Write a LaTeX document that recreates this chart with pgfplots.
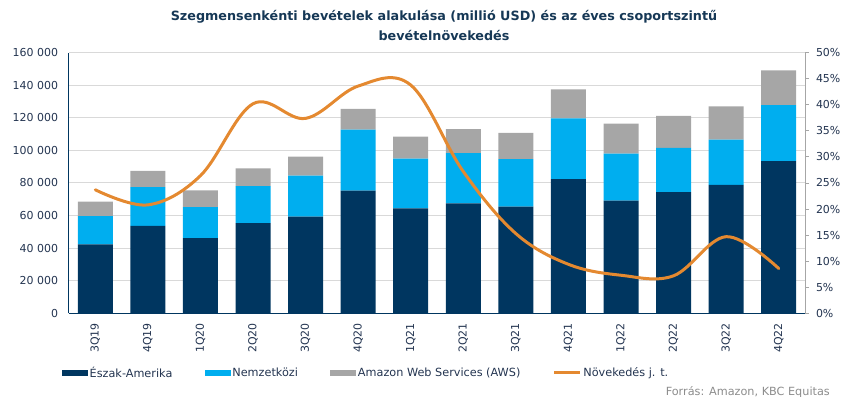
\documentclass[border=0pt]{standalone}
\usepackage{fontspec}
\setmainfont{DejaVu Sans}
\usepackage{pgfplots}
\pgfplotsset{compat=1.18}
\definecolor{navy}{RGB}{0,54,96}
\definecolor{lblue}{RGB}{0,174,239}
\definecolor{aws}{RGB}{166,166,166}
\definecolor{orng}{RGB}{228,137,48}
\definecolor{titlec}{RGB}{22,56,86}
\definecolor{tickc}{RGB}{35,52,80}
\definecolor{gridc}{RGB}{217,217,217}
\definecolor{srcc}{RGB}{140,140,140}
\pgfplotsset{
  boxlegend/.style={legend image code/.code={\fill[##1,draw=none] (0bp,-3.3bp) rectangle (26bp,3.3bp);}},
  linelegend/.style={legend image code/.code={\draw[##1] (0bp,0bp) -- (26bp,0bp);}},
}
\pgfplotstableread{
x na intl aws
0 42319 17317 8995
1 53670 23813 9954
2 46127 19106 10219
3 55436 22668 10808
4 59373 25171 11601
5 75346 37467 12742
6 64366 30649 13503
7 67550 30721 14809
8 65557 29150 16110
9 82360 37272 17780
10 69244 28759 18441
11 74430 27065 19739
12 78843 27720 20538
13 93363 34463 21378
}\revtable
\pgfplotstableread{
x g
0 23.7
1 20.8
2 26.4
3 40.2
4 37.4
5 43.6
6 43.8
7 27.2
8 15.3
9 9.4
10 7.3
11 7.2
12 14.7
13 8.6
}\growtable
\begin{document}
\begin{tikzpicture}
\path[use as bounding box] (-69bp,-83.7bp) rectangle (781bp,313.3bp);
\begin{axis}[
  name=main, at={(0,0)}, anchor=south west, scale only axis,
  width=736bp, height=260.6bp,
  xmin=-0.5, xmax=13.5, ymin=0, ymax=160000,
  ybar stacked, bar width=35bp,
  axis x line*=bottom, axis y line*=left,
  axis line style={color=navy, line width=1bp},
  major tick length=0pt,
  xtick={0,...,13},
  xticklabels={3Q19,4Q19,1Q20,2Q20,3Q20,4Q20,1Q21,2Q21,3Q21,4Q21,1Q22,2Q22,3Q22,4Q22},
  ytick={0,20000,...,160000},
  scaled y ticks=false,
  /pgf/number format/.cd, fixed, 1000 sep={\ }, assume math mode=true, /pgfplots/.cd,
  ymajorgrids, grid style={color=gridc, line width=1bp},
  yticklabel style={font=\fontsize{11}{13}\selectfont, text=tickc, anchor=east, inner sep=0pt, outer sep=11bp},
  xticklabel style={font=\fontsize{11}{13}\selectfont, text=tickc, rotate=90, anchor=east, inner sep=0pt, outer sep=10bp},
  legend columns=4,
  legend style={at={(axis description cs:-0.0095,-0.229)}, anchor=west, draw=none, fill=none,
    inner sep=0pt, font=\fontsize{11.3}{13}\selectfont, text=tickc,
    nodes={inner sep=1.5bp},
    /tikz/every even column/.append style={column sep=31bp}},
  legend cell align=left,
]
\addplot[fill=navy, draw=none, boxlegend] table[x=x, y=na] {\revtable};
\addlegendentry{Észak-Amerika}
\addplot[fill=lblue, draw=none, boxlegend] table[x=x, y=intl] {\revtable};
\addlegendentry{Nemzetközi}
\addplot[fill=aws, draw=none, boxlegend] table[x=x, y=aws] {\revtable};
\addlegendentry{Amazon Web Services (AWS)}
\addlegendimage{orng, line width=3bp, linelegend}
\addlegendentry{Növekedés j. t.}
\end{axis}
\begin{axis}[
  at={(0,0)}, anchor=south west, scale only axis,
  width=736bp, height=260.6bp,
  xmin=-0.5, xmax=13.5, ymin=0, ymax=50,
  axis x line=none, axis y line*=right,
  y axis line style={color=aws, line width=1bp},
  ytick={0,5,...,50},
  ytick style={color=aws, line width=1bp},
  major tick length=4bp, tick align=outside,
  /pgf/number format/.cd, assume math mode=true, /pgfplots/.cd,
  yticklabel={\pgfmathprintnumber{\tick}\%},
  yticklabel style={font=\fontsize{11}{13}\selectfont, text=tickc, anchor=west, inner sep=0pt, outer sep=7bp},
]
\addplot[orng, line width=3bp, smooth, tension=0.6, line cap=round] table[x=x, y=g] {\growtable};
\end{axis}
\node[align=center, font=\bfseries\fontsize{12.8}{19.5}\selectfont, text=titlec] at (375bp,288bp)
  {Szegmensenkénti bevételek alakulása (millió USD) és az éves csoportszintű\\bevételnövekedés};
\node[anchor=east, inner sep=0pt, font=\fontsize{11.3}{13}\selectfont, text=srcc] at (761bp,-78.4bp)
  {Forrás: Amazon, KBC Equitas};
\end{tikzpicture}
\end{document}
